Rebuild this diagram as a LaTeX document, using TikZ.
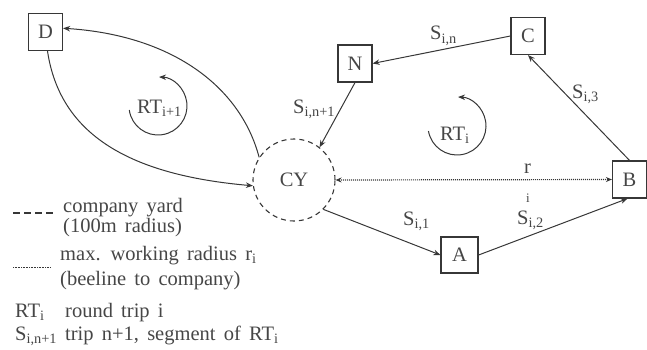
\documentclass[tikz,border=0pt]{standalone}
\usepackage{fontspec}
\setmainfont{Liberation Serif}[WordSpace=1.6]
\usetikzlibrary{arrows.meta}
\definecolor{ink}{RGB}{55,55,55}
\definecolor{inktext}{RGB}{70,70,70}
\begin{document}
\begin{tikzpicture}[x=1pt,y=1pt,
  every node/.style={text=inktext, font=\fontsize{20.5}{25}\selectfont},
  site/.style={draw=ink, line width=1.2pt, minimum width=34pt, minimum height=37pt, inner sep=0pt},
  yard/.style={draw=ink, circle, dash pattern=on 5pt off 4pt, line width=1.1pt, minimum size=82pt, inner sep=0pt},
  trip/.style={draw=ink, line width=1pt, -{Stealth[length=7pt,width=5.5pt]}},
  beeline/.style={draw=ink, line width=1.2pt, dash pattern=on 1pt off 1pt,
    {Stealth[length=6pt,width=5pt]}-{Stealth[length=6pt,width=5pt]}},
  lbl/.style={anchor=base west, inner sep=0pt},
]
\useasboundingbox (0,0) rectangle (647,349);

% sites and the company yard
\node[site] (D) at (45.5,317) {D};
\node[site] (N) at (355,285.5) {N};
\node[site] (C) at (528,313) {C};
\node[site] (B) at (629.5,169.5) {B};
\node[site, minimum width=37pt, minimum height=36pt] (A) at (459.5,94) {A};
\node[yard] (CY) at (294,169) {CY};

% round trip i
\draw[trip] (CY.-45) -- (A.west);
\draw[trip] (A.east) -- ([xshift=-2pt]B.south);
\draw[trip] (B.north) -- (C.south);
\draw[trip] (C.west) -- (N.east);
\draw[trip] (N.south) -- (CY.52);

% round trip i+1
\draw[trip] (CY.147) .. controls (240,264) and (170,314) .. (D.12);
\draw[trip] ([xshift=2pt]D.south) .. controls (60,214) and (130,174) .. (CY.188);

% working radius
\draw[beeline] (CY.east) -- (B.west);
\node[lbl] (r) at (524,176) {r};
\node[lbl, font=\fontsize{13}{15}\selectfont] (ri) at (526,147) {i};

% segment labels
\node[lbl] (s1) at (403,124) {S\textsubscript{i,1}};
\node[lbl] (s2) at (517,125) {S\textsubscript{i,2}};
\node[lbl] (s3) at (572,251) {S\textsubscript{i,3}};
\node[lbl] (sn) at (430,309) {S\textsubscript{i,n}};
\node[lbl] (sn1) at (293,236) {S\textsubscript{i,n+1}};

% direction of the round trips
\node[lbl] (rt1) at (137,236) {RT\textsubscript{i+1}};
\draw[trip] (158,243) ++(188:29) arc[start angle=188, end angle=448, radius=29];
\node[lbl] (rt) at (440,209) {RT\textsubscript{i}};
\draw[trip] (457,223) ++(190:29) arc[start angle=190, end angle=448, radius=29];

% legend
\draw[ink, line width=1.6pt, dash pattern=on 7pt off 4pt] (13,136) -- (53,136);
\node[lbl] (l1) at (63,137) {company yard};
\node[lbl] (l2) at (63,117) {(100m radius)};
\draw[ink, line width=1pt, dash pattern=on 0.8pt off 0.8pt] (13,82) -- (50,82);
\node[lbl] (l3) at (60,89) {max. working radius r\textsubscript{i}};
\node[lbl] (l4) at (60,64) {(beeline to company)};
\node[lbl] (l5) at (15,32) {RT\textsubscript{i}};
\node[lbl] (l6) at (65,32) {round trip i};
\node[lbl] (l7) at (15,9) {S\textsubscript{i,n+1}};
\node[lbl] (l8) at (65,9) {trip n+1, segment of RT\textsubscript{i}};
\end{tikzpicture}
\end{document}
